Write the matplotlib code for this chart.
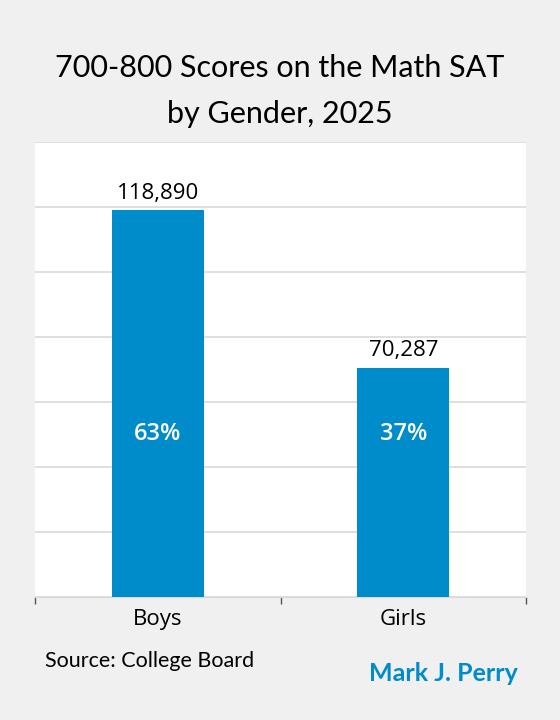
import matplotlib
matplotlib.use("Agg")
import matplotlib.pyplot as plt
from matplotlib.ticker import MultipleLocator

# data
categories = ["Boys", "Girls"]
counts = [118890, 70287]
shares = ["63%", "37%"]

bar_color = "#008BCB"
bg_color = "#F0F0F0"

fig = plt.figure(figsize=(5.6, 7.2), dpi=100, facecolor=bg_color)
ax = fig.add_axes([0.0625, 0.171, 0.877, 0.632])
ax.set_facecolor("white")

x = range(len(categories))
ax.bar(x, counts, width=0.375, color=bar_color, zorder=3)

ax.set_xlim(-0.5, 1.5)
ax.set_ylim(0, 140000)
ax.yaxis.set_major_locator(MultipleLocator(20000))
ax.grid(axis="y", color="#D9D9D9", linewidth=1.2, zorder=0)
ax.set_yticklabels([])
ax.tick_params(axis="y", length=0)

# ticks on category boundaries, labels in the middle
ax.set_xticks([-0.5, 0.5, 1.5])
ax.set_xticklabels([])
ax.set_xticks(list(x), minor=True)
ax.set_xticklabels(categories, minor=True, fontsize=16, family="Open Sans")
ax.tick_params(axis="x", which="major", length=5, color="#555555", width=1)
ax.tick_params(axis="x", which="minor", length=0, pad=9)

for side in ["top", "right", "left"]:
    ax.spines[side].set_visible(False)
ax.spines["bottom"].set_color("#D9D9D9")

for i, (c, s) in enumerate(zip(counts, shares)):
    ax.annotate(f"{c:,}", (i, c), xytext=(0, 5), textcoords="offset points",
                ha="center", va="bottom", fontsize=16, family="Open Sans")
    ax.text(i, 50000, s, ha="center", va="center", color="white",
            fontsize=17, family="Open Sans", fontweight="semibold")

fig.text(0.5, 0.893, "700-800 Scores on the Math SAT", ha="center",
         va="baseline", fontsize=22, family="Lato")
fig.text(0.5, 0.829, "by Gender, 2025", ha="center", va="baseline",
         fontsize=22, family="Lato")
fig.text(0.08, 0.0736, "Source: College Board", ha="left", va="baseline",
         fontsize=15.5, family="Lato")
fig.text(0.925, 0.0546, "Mark J. Perry", ha="right", va="baseline",
         fontsize=18, family="Lato", fontweight="bold", color=bar_color)

fig.savefig("out.png", dpi=100, facecolor=bg_color)
